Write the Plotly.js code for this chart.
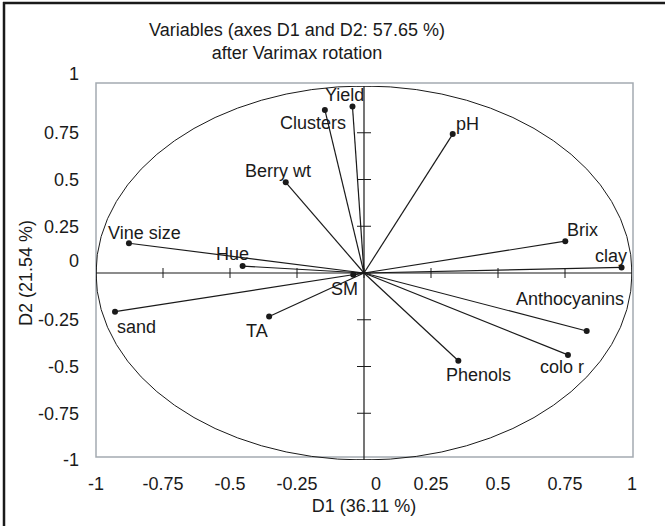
<!DOCTYPE html>
<html><head><meta charset="utf-8">
<script src="https://cdn.plot.ly/plotly-3.0.1.min.js"></script>
<style>html,body{margin:0;padding:0;background:#fff}#chart{width:665px;height:526px}</style>
</head><body><div id="chart"></div>
<script>
// ---- data ----
const variables = ['Yield','Clusters','Berry wt','Vine size','Hue','pH','Brix','clay','sand','TA','SM','Anthocyanins','colo r','Phenols'];
const d1 = [-0.043,-0.146,-0.292,-0.877,-0.453,0.331,0.751,0.961,-0.929,-0.354,-0.04,0.831,0.761,0.352];
const d2 = [0.89,0.872,0.485,0.159,0.037,0.743,0.170,0.030,-0.207,-0.233,-0.01,-0.310,-0.438,-0.469];
const xTickVals = [-1,-0.75,-0.5,-0.25,0,0.25,0.5,0.75,1];
const xTickText = ['-1','-0.75','-0.5','-0.25','0','0.25','0.5','0.75','1'];
const yTickVals = [-1,-0.75,-0.5,-0.25,0,0.25,0.5,0.75,1];
const yTickText = ['-1','-0.75','-0.5','-0.25','0','0.25','0.5','0.75','1'];
const titleText = 'Variables (axes D1 and D2: 57.65 %)<br>after Varimax rotation';
const xTitle = 'D1 (36.11 %)';
const yTitle = 'D2 (21.54 %)';

// ---- styling / placement ----
const FONT = 'Liberation Sans, Arial, sans-serif';
const INK = '#1a1a1a';
const FS = 18;
// label offsets in screen pixels (dx right, dy down)
const labelOffset = {
  'Yield':[-8,-12],'Clusters':[-12,13],'Berry wt':[-8,-11],'Vine size':[16,-10],'Hue':[-10,-12],
  'pH':[15,-10],'Brix':[17,-11],'clay':[-11,-11],'sand':[21,15],'TA':[-12,14],'SM':[-9,14],
  'Anthocyanins':[-17,-32],'colo r':[-6,12],'Phenols':[20,14]
};
const xShifted = [0];      // tick labels drawn offset along the axis
const yShifted = [0, 1];

const W = 665, H = 526, M = {l:96, r:33, t:86, b:66};
const PW = W - M.l - M.r, PH = H - M.t - M.b;
const px = v => (v - M.l) / PW;           // pixel -> paper x
const py = v => (H - M.b - v) / PH;       // pixel -> paper y

const lineX = [], lineY = [];
variables.forEach((n, i) => { lineX.push(0, d1[i], null); lineY.push(0, d2[i], null); });

const traces = [
  {type:'scatter', mode:'lines', x:lineX, y:lineY, line:{color:INK, width:1.2},
   hoverinfo:'skip', showlegend:false},
  {type:'scatter', mode:'markers', x:d1, y:d2, text:variables,
   marker:{color:INK, size:6}, showlegend:false},
  {type:'scatter', mode:'markers', x:[0], y:[0], xaxis:'x2', yaxis:'y2',
   marker:{opacity:0}, hoverinfo:'skip', showlegend:false}
];

const shapes = [];
// plot frame (grey)
shapes.push({type:'rect', xref:'paper', yref:'paper', x0:0, x1:px(633), y0:py(457), y1:py(83),
  line:{color:'#a4aab1', width:1.5}, layer:'below'});
// correlation circle
shapes.push({type:'circle', xref:'x', yref:'y', x0:-1, x1:1, y0:-1, y1:1, line:{color:INK, width:1}});
// axes through origin
shapes.push({type:'line', xref:'x', yref:'y', x0:-1, x1:1, y0:0, y1:0, line:{color:INK, width:1.2}});
shapes.push({type:'line', xref:'x', yref:'y', x0:0, x1:0, y0:-1, y1:1, line:{color:INK, width:1.2}});
xTickVals.forEach(t => shapes.push({type:'line', xref:'x', x0:t, x1:t, yref:'y', ysizemode:'pixel',
  yanchor:0, y0:-5, y1:5, line:{color:INK, width:1}}));
yTickVals.forEach(t => shapes.push({type:'line', yref:'y', y0:t, y1:t, xref:'x', xsizemode:'pixel',
  xanchor:0, x0:-7, x1:7, line:{color:INK, width:1}}));
// outer figure border (top and left)
shapes.push({type:'line', xref:'paper', yref:'paper', x0:px(3), x1:px(665), y0:py(3), y1:py(3), line:{color:INK, width:2.5}});
shapes.push({type:'line', xref:'paper', yref:'paper', x0:px(4), x1:px(4), y0:py(2), y1:py(526), line:{color:INK, width:2.5}});

const annotations = variables.map((n, i) => ({
  x:d1[i], y:d2[i], xref:'x', yref:'y', text:n, showarrow:false,
  xanchor:'center', yanchor:'middle',
  xshift:labelOffset[n][0], yshift:-labelOffset[n][1],
  font:{family:FONT, size:FS, color:INK}
}));

const keep = (vals, txt, set, inSet) => {
  const v = [], t = [];
  vals.forEach((x, i) => { if (set.includes(x) === inSet) { v.push(x); t.push(txt[i]); } });
  return {v, t};
};
const xMain = keep(xTickVals, xTickText, xShifted, false), xOff = keep(xTickVals, xTickText, xShifted, true);
const yMain = keep(yTickVals, yTickText, yShifted, false), yOff = keep(yTickVals, yTickText, yShifted, true);

const axBase = {range:[-1,1], showgrid:false, zeroline:false, showline:false, ticks:'',
  tickfont:{family:FONT, size:FS, color:INK}, fixedrange:true};

const layout = {
  width:W, height:H, margin:M, paper_bgcolor:'#fff', plot_bgcolor:'rgba(0,0,0,0)',
  showlegend:false, hovermode:false,
  font:{family:FONT, size:FS, color:INK},
  title:{text:titleText, font:{family:FONT, size:FS, color:INK}, xref:'container', yref:'container',
    x:297/W, xanchor:'center', y:1-36/H, yanchor:'top'},
  xaxis:Object.assign({}, axBase, {tickmode:'array', tickvals:xMain.v, ticktext:xMain.t, ticklabelstandoff:11,
    title:{text:xTitle, standoff:6, font:{family:FONT, size:FS, color:INK}}}),
  yaxis:Object.assign({}, axBase, {tickmode:'array', tickvals:yMain.v, ticktext:yMain.t, ticklabelstandoff:16,
    title:{text:yTitle, standoff:0, font:{family:FONT, size:FS, color:INK}}}),
  xaxis2:Object.assign({}, axBase, {overlaying:'x', side:'bottom', anchor:'y2', tickmode:'array',
    tickvals:xOff.v, ticktext:xOff.t, ticklabelstandoff:11, ticklabelshift:12}),
  yaxis2:Object.assign({}, axBase, {overlaying:'y', side:'left', anchor:'x2', tickmode:'array',
    tickvals:yOff.v, ticktext:yOff.t, ticklabelstandoff:16, ticklabelshift:-12}),
  shapes, annotations
};

Plotly.newPlot('chart', traces, layout, {displayModeBar:false, staticPlot:true});
</script>
</body></html>
